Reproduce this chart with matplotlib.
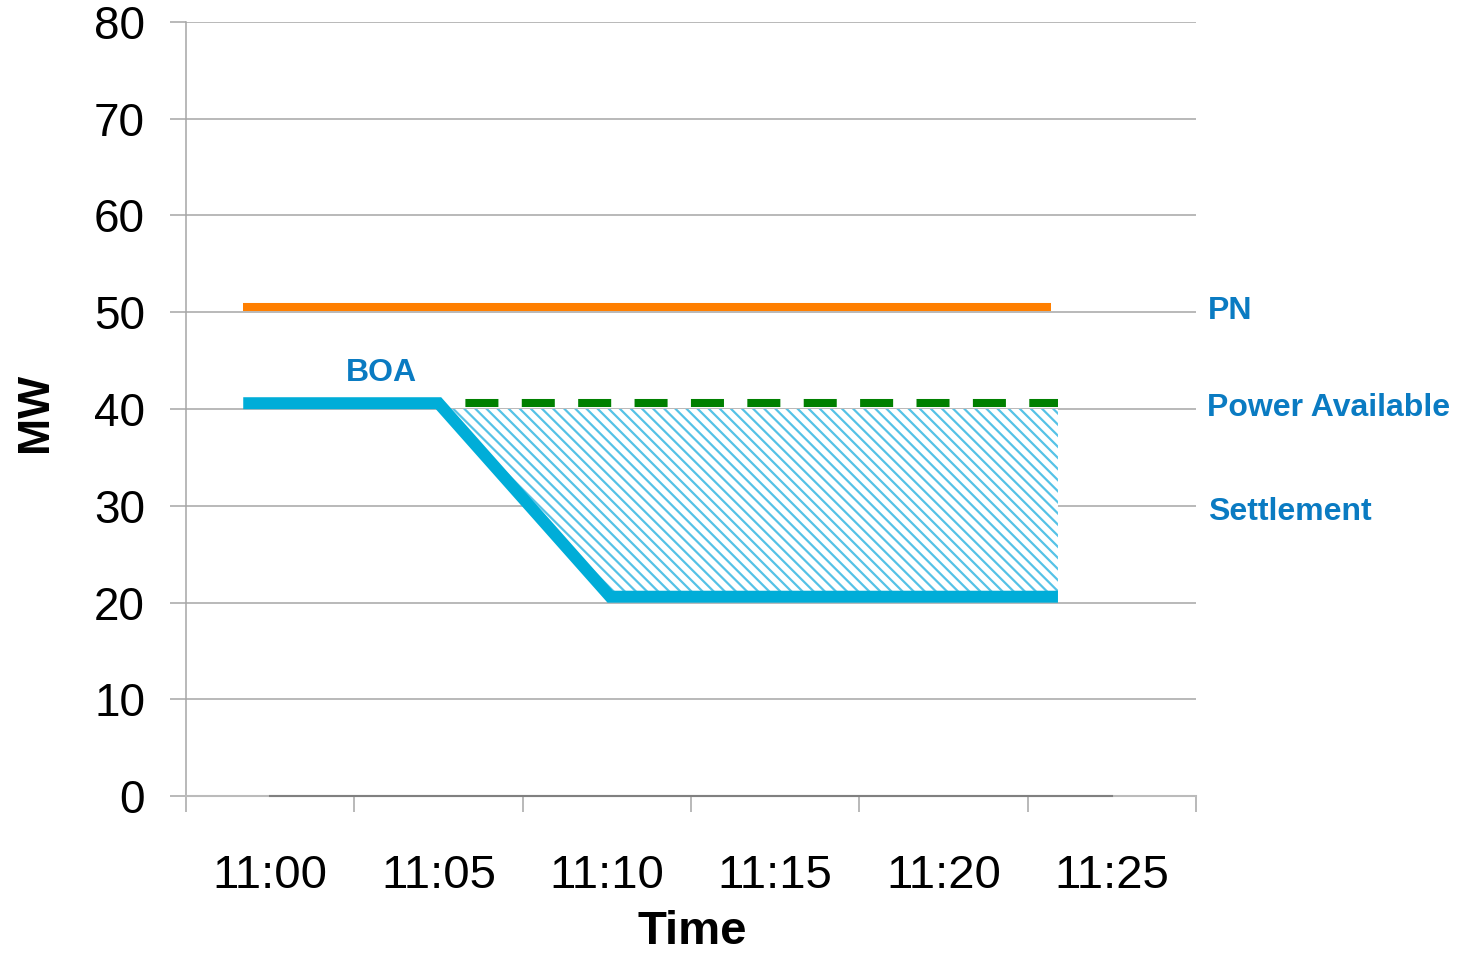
import matplotlib
matplotlib.use("Agg")
import matplotlib.pyplot as plt

plt.rcParams['font.family'] = ['Liberation Sans', 'DejaVu Sans']
plt.rcParams['hatch.linewidth'] = 1.6

# category labels (minutes after 11:00 at the centre of each category)
time_labels = ['11:00', '11:05', '11:10', '11:15', '11:20', '11:25']
time_min = [0, 5, 10, 15, 20, 25]
y_ticks = [0, 10, 20, 30, 40, 50, 60, 70, 80]

# PN (physical notification)
pn_x = [-0.8, 23.2]
pn_mw = [50.5, 50.5]

# BOA profile
boa_x = [-0.8, 5.0, 10.1, 23.4]
boa_mw = [40.6, 40.6, 20.6, 20.6]

# power available
pa_x = [5.0, 23.4]
pa_mw = [40.6, 40.6]

# settlement area (between 40 MW and the BOA)
settle_x = [5.0, 10.1, 23.4]
settle_top = [40, 40, 40]
settle_bottom = [40.6, 20.6, 20.6]

txt_blue = '#0A7BC2'
grid_col = '#A6A6A6'

fig = plt.figure(figsize=(14.58, 9.55), dpi=100)
ax = fig.add_axes([186/1458, 1 - 796/955, 1010/1458, 774/955])

ax.set_xlim(-2.5, 27.5)
ax.set_ylim(0, 80)

# gridlines
for v in y_ticks[1:]:
    ax.axhline(v, color=grid_col, lw=1.1, zorder=1)

# settlement hatch
ax.fill_between(settle_x, settle_bottom, settle_top, facecolor='white',
                edgecolor='#55C2E6', hatch='\\\\\\', linewidth=0, zorder=2)

# zero series line
ax.plot([time_min[0], time_min[-1]], [0, 0], color='#808080', lw=1.5,
        zorder=3, clip_on=False)

ax.plot(pn_x, pn_mw, color='#FF7F00', lw=5.8, solid_capstyle='butt', zorder=4)
ax.plot(pa_x, pa_mw, color='#008000', lw=5.8, dash_capstyle='butt',
        linestyle=(3.6, (4.1, 2.9)), zorder=4)
ax.plot(boa_x, boa_mw, color='#00ADD8', lw=8.6, solid_capstyle='butt',
        solid_joinstyle='miter', zorder=5)

# axes styling
for s in ['top', 'right']:
    ax.spines[s].set_visible(False)
ax.spines['left'].set_color(grid_col)
ax.spines['left'].set_linewidth(1.1)
ax.spines['bottom'].set_color('#BBBBBB')
ax.spines['bottom'].set_linewidth(1.5)

ax.set_yticks(y_ticks)
ax.tick_params(axis='y', length=11.5, width=1.1, color=grid_col,
               labelsize=33, pad=18)

bounds = [t - 2.5 for t in time_min] + [time_min[-1] + 2.5]
ax.set_xticks(bounds)
ax.set_xticklabels([])
ax.tick_params(axis='x', which='major', length=11.5, width=1.1, color=grid_col)
ax.set_xticks(time_min, minor=True)
ax.set_xticklabels(time_labels, minor=True)
ax.tick_params(axis='x', which='minor', length=0, labelsize=34, pad=42)

fig.text(692/1458, 0.001, 'Time', fontsize=34, fontweight='bold',
         ha='center', va='bottom')
fig.text(36/1458, 1 - 412/955, 'MW', fontsize=32, fontweight='bold',
         rotation=90, ha='center', va='center')

# series labels
lbl = dict(fontsize=23, fontweight='bold', color=txt_blue, clip_on=False)
ax.text(27.85, 50.1, 'PN', ha='left', va='center', **lbl)
ax.text(27.82, 40.1, 'Power Available', ha='left', va='center', **lbl)
ax.text(27.85, 29.4, 'Settlement', ha='left', va='center', **lbl)
ax.text(3.3, 43.7, 'BOA', ha='center', va='center', **lbl)

fig.savefig('out.png', dpi=100)
